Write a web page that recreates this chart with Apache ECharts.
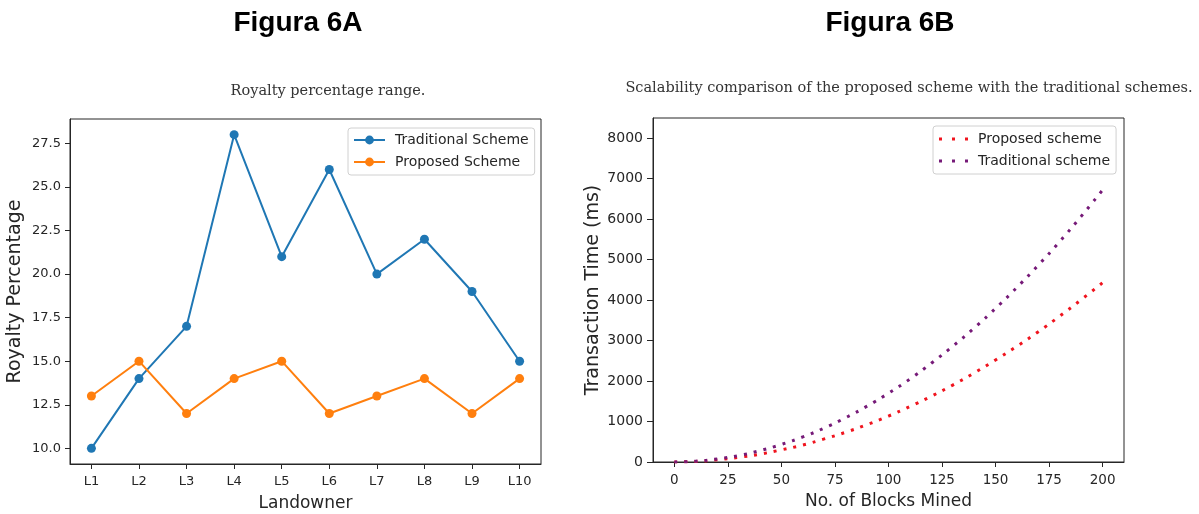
<!DOCTYPE html>
<html>
<head>
    <meta charset="UTF-8">
    <title>Figura 6A / 6B</title>
    <script src="https://cdn.jsdelivr.net/npm/echarts@6/dist/echarts.min.js"></script>
    <style type="text/css">
        html, body, #main {
            height: 100%;
            width: 100%;
            margin: 0;
            padding: 0;
            background: #fff
        }
    </style>
</head>
<body>
<div id="main"></div>
<script type="text/javascript">
    // Figura 6A - royalty percentage per landowner
    var landowners = ['L1', 'L2', 'L3', 'L4', 'L5', 'L6', 'L7', 'L8', 'L9', 'L10'];
    var traditionalRoyalty = [10, 14, 17, 28, 21, 26, 20, 22, 19, 15];
    var proposedRoyalty = [13, 15, 12, 14, 15, 12, 13, 14, 12, 14];
    var royaltyTicks = [10, 12.5, 15, 17.5, 20, 22.5, 25, 27.5];

    // Figura 6B - transaction time vs number of blocks mined
    var blocksMined = [0, 10, 20, 30, 40, 50, 60, 70, 80, 90, 100, 110, 120, 130, 140, 150, 160, 170, 180, 190, 200];
    var proposedTime = [0, 15, 55, 115, 195, 300, 420, 570, 735, 925, 1135, 1370, 1625, 1900, 2200, 2520, 2860, 3220, 3605, 4010, 4430];
    var traditionalTime = [0, 20, 75, 160, 280, 435, 620, 840, 1095, 1380, 1700, 2050, 2440, 2860, 3310, 3795, 4315, 4865, 5450, 6070, 6720];
    var blockTicks = [0, 25, 50, 75, 100, 125, 150, 175, 200];
    var timeTicks = [0, 1000, 2000, 3000, 4000, 5000, 6000, 7000, 8000];

    var FONT = 'DejaVu Sans';
    var INK = '#262626';

    function pairs(xs, ys) {
        return ys.map(function (v, i) { return [xs[i], v]; });
    }

    // matplotlib-like value axis: ticks outward, no split lines
    function axis(gridIndex, min, max, ticks, name, nameGap, nameSize, fmt) {
        return {
            type: 'value',
            gridIndex: gridIndex,
            min: min,
            max: max,
            name: name,
            nameLocation: 'middle',
            nameGap: nameGap,
            nameTextStyle: {fontFamily: FONT, fontSize: nameSize, color: INK},
            axisLine: {show: true, onZero: false, lineStyle: {color: INK, width: 1}},
            axisTick: {show: true, inside: false, length: 5, customValues: ticks, lineStyle: {color: INK}},
            axisLabel: {
                show: true, customValues: ticks, margin: 9,
                fontFamily: FONT, fontSize: 13, color: INK,
                formatter: fmt
            },
            splitLine: {show: false}
        };
    }

    var landLabel = function (v) { return landowners[Math.round(v)]; };
    var royaltyLabel = function (v) { return v.toFixed(1); };
    var plainLabel = function (v) { return String(v); };
    var landIndex = landowners.map(function (d, i) { return i; });

    var xLeft = axis(0, -0.45, 9.45, landIndex, 'Landowner', 31, 17, landLabel);
    xLeft.axisLabel.margin = 11;
    var yLeft = axis(0, 9.1, 28.9, royaltyTicks, 'Royalty Percentage', 45, 19, royaltyLabel);
    var xRight = axis(1, -10, 210, blockTicks, 'No. of Blocks Mined', 31, 17, plainLabel);
    xRight.axisLabel.margin = 11;
    xRight.axisLabel.fontSize = 13.5;
    var yRight = axis(1, 0, 8500, timeTicks, 'Transaction Time (ms)', 50, 19, plainLabel);
    yRight.axisLabel.margin = 10;
    yRight.axisLabel.fontSize = 14;
    yRight.axisTick.length = 6;

    var dotIcon = 'path://M0,0h3v3h-3z M13,0h3v3h-3z M26,0h3v3h-3z';

    var mycharts = echarts.init(document.getElementById('main'));
    var option = {
        animation: false,
        backgroundColor: '#fff',
        title: [
            {text: 'Figura 6A', left: 298, top: 9, textAlign: 'center', padding: 0,
                textStyle: {fontFamily: 'Liberation Sans', fontWeight: 'bold', fontSize: 28, color: '#000'}},
            {text: 'Figura 6B', left: 890, top: 9, textAlign: 'center', padding: 0,
                textStyle: {fontFamily: 'Liberation Sans', fontWeight: 'bold', fontSize: 28, color: '#000'}},
            {text: 'Royalty percentage range.', left: 328, top: 84, textAlign: 'center', padding: 0,
                textStyle: {fontFamily: 'DejaVu Serif', fontWeight: 'normal', fontSize: 14.5, color: '#333'}},
            {text: 'Scalability comparison of the proposed scheme with the traditional schemes.', left: 909, top: 81,
                textAlign: 'center', padding: 0,
                textStyle: {fontFamily: 'DejaVu Serif', fontWeight: 'normal', fontSize: 14.5, color: '#333'}}
        ],
        legend: [
            {
                data: ['Traditional Scheme', 'Proposed Scheme'],
                orient: 'vertical', left: 348, top: 128,
                itemWidth: 31, itemHeight: 11, itemGap: 8,
                padding: [5, 6, 6, 5],
                backgroundColor: '#fff', borderColor: '#d0d0d0', borderWidth: 1, borderRadius: 3,
                textStyle: {fontFamily: FONT, fontSize: 14, color: INK, padding: [0, 0, 0, 5]}
            },
            {
                data: [{name: 'Proposed scheme', icon: dotIcon}, {name: 'Traditional scheme', icon: dotIcon}],
                orient: 'vertical', left: 933, top: 126,
                itemWidth: 29, itemHeight: 3, itemGap: 8,
                padding: [6, 6, 6, 6],
                backgroundColor: '#fff', borderColor: '#d0d0d0', borderWidth: 1, borderRadius: 3,
                textStyle: {fontFamily: FONT, fontSize: 14, color: INK, padding: [0, 0, 0, 5]}
            }
        ],
        grid: [
            {left: 70, top: 119, width: 471, height: 345, show: true, borderColor: INK, borderWidth: 1,
                backgroundColor: 'transparent', outerBoundsMode: 'none'},
            {left: 653, top: 118, width: 471, height: 344, show: true, borderColor: INK, borderWidth: 1,
                backgroundColor: 'transparent', outerBoundsMode: 'none'}
        ],
        xAxis: [xLeft, xRight],
        yAxis: [yLeft, yRight],
        series: [
            {
                name: 'Traditional Scheme', type: 'line', xAxisIndex: 0, yAxisIndex: 0,
                data: pairs(landIndex, traditionalRoyalty),
                symbol: 'circle', symbolSize: 9,
                itemStyle: {color: '#1f77b4'},
                lineStyle: {color: '#1f77b4', width: 2}
            },
            {
                name: 'Proposed Scheme', type: 'line', xAxisIndex: 0, yAxisIndex: 0,
                data: pairs(landIndex, proposedRoyalty),
                symbol: 'circle', symbolSize: 9,
                itemStyle: {color: '#ff7f0e'},
                lineStyle: {color: '#ff7f0e', width: 2}
            },
            {
                name: 'Proposed scheme', type: 'line', xAxisIndex: 1, yAxisIndex: 1,
                data: pairs(blocksMined, proposedTime),
                showSymbol: false, symbol: 'none', smooth: true,
                itemStyle: {color: '#f0141e'},
                lineStyle: {color: '#f0141e', width: 3, type: [3, 7], cap: 'butt'}
            },
            {
                name: 'Traditional scheme', type: 'line', xAxisIndex: 1, yAxisIndex: 1,
                data: pairs(blocksMined, traditionalTime),
                showSymbol: false, symbol: 'none', smooth: true,
                itemStyle: {color: '#761a78'},
                lineStyle: {color: '#761a78', width: 3, type: [3, 7], cap: 'butt'}
            }
        ]
    };
    mycharts.setOption(option);
</script>
</body>
</html>
